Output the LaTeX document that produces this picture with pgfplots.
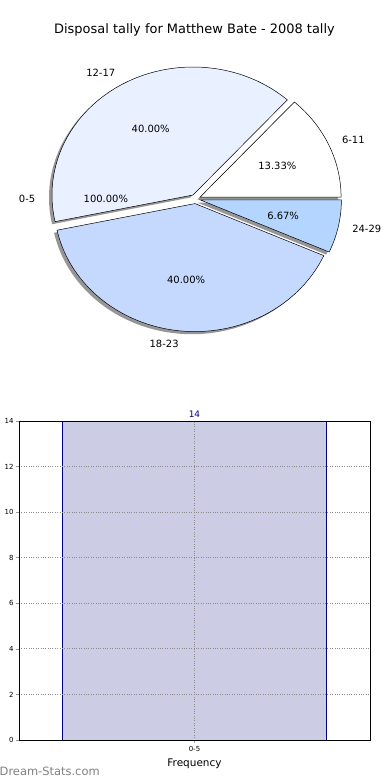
\documentclass[border=0pt]{standalone}
\usepackage{fontspec}
\setmainfont{DejaVu Sans}
\usepackage{pgfplots}
\pgfplotsset{compat=1.18}
\definecolor{s0611}{HTML}{FFFFFF}
\definecolor{s1217}{HTML}{E9F0FF}
\definecolor{s1823}{HTML}{C5D9FF}
\definecolor{s2429}{HTML}{B4D5FF}
\definecolor{barfill}{HTML}{CCCCE5}
\definecolor{navyc}{HTML}{000080}
% pie values (counts): 6-11 = 2, 12-17 = 6, 0-5 = 0, 18-23 = 6, 24-29 = 1 ; total 15
\newcommand\pietotal{15}
\newcommand\pieslice[4]{% #1 cumulative start, #2 value, #3 fill, #4 1=shadow
  \pgfmathsetmacro\sa{360*#1/\pietotal}%
  \pgfmathsetmacro\ea{360*(#1+#2)/\pietotal}%
  \pgfmathsetmacro\ma{(\sa+\ea)/2}%
  \ifnum#4=1
    \pgfmathsetmacro\px{195.5+5*cos(\ma)-3}%
    \pgfmathsetmacro\py{581+4.6*sin(\ma)-2.6}%
    \edef\tmp{\noexpand\fill[black!75,opacity=0.55] (axis cs:\px,\py) -- ++(\sa:141bp and 128bp) arc[start angle=\sa, end angle=\ea, x radius=141bp, y radius=128bp] -- cycle;}%
  \else
    \pgfmathsetmacro\px{195.5+5*cos(\ma)}%
    \pgfmathsetmacro\py{581+4.6*sin(\ma)}%
    \edef\tmp{\noexpand\filldraw[fill=#3,draw=black,line width=0.5pt,line join=miter] (axis cs:\px,\py) -- ++(\sa:141bp and 128bp) arc[start angle=\sa, end angle=\ea, x radius=141bp, y radius=128bp] -- cycle;}%
  \fi
  \tmp}
\begin{document}
\begin{tikzpicture}
\useasboundingbox (0,0) rectangle (390bp,780bp);
\begin{axis}[at={(0,0)}, anchor=origin, x=1bp, y=1bp, xmin=0, xmax=390, ymin=0, ymax=780,
  hide axis, clip=false]
  \addplot[draw=none] coordinates {(0,0) (390,780)};
  % shadows
  \pieslice{0}{2}{s0611}{1}
  \pieslice{2}{6}{s1217}{1}
  \pieslice{8}{6}{s1823}{1}
  \pieslice{14}{1}{s2429}{1}
  % slices
  \pieslice{0}{2}{s0611}{0}
  \pieslice{2}{6}{s1217}{0}
  \pieslice{8}{6}{s1823}{0}
  \pieslice{14}{1}{s2429}{0}
  \begingroup
  \fontsize{10}{12}\selectfont
  \node[anchor=west, inner sep=0pt] at (axis cs:341.8,640.1) {6-11};
  \node[anchor=east, inner sep=0pt] at (axis cs:115.4,706.9) {12-17};
  \node[anchor=east, inner sep=0pt] at (axis cs:35.4,581) {0-5};
  \node[anchor=east, inner sep=0pt] at (axis cs:178.8,436.4) {18-23};
  \node[anchor=west, inner sep=0pt] at (axis cs:352.1,550.8) {24-29};
  \node[inner sep=0pt] at (axis cs:277.4,614.1) {13.33\%};
  \node[inner sep=0pt] at (axis cs:150.7,651.5) {40.00\%};
  \node[inner sep=0pt] at (axis cs:105.9,581) {100.00\%};
  \node[inner sep=0pt] at (axis cs:186.1,500.0) {40.00\%};
  \node[inner sep=0pt] at (axis cs:283.1,564.0) {6.67\%};
  \endgroup
  \node[inner sep=0pt, font=\fontsize{13}{15}\selectfont] at (axis cs:194.5,750) {Disposal tally for Matthew Bate - 2008 tally};
  \node[anchor=west, inner sep=0pt, text=black!50, font=\fontsize{11.5}{13}\selectfont] at (axis cs:-0.5,9) {Dream-Stats.com};
\end{axis}
\begin{axis}[at={(19bp,40bp)}, anchor=south west, scale only axis,
  width=351bp, height=319bp,
  xmin=-0.665, xmax=0.665, ymin=0, ymax=14,
  ytick={0,2,...,14}, xtick={0}, xticklabels={0-5},
  /pgf/number format/assume math mode=true,
  grid=major, major grid style={dotted, black!45, line width=0.8pt},
  axis line style={black, line width=0.8pt},
  tick style={black!40, line width=0.6pt}, major tick length=3bp,
  tick align=outside, tick pos=left,
  ticklabel style={font=\fontsize{7}{8}\selectfont},
  yticklabel style={xshift=1bp},
  xlabel={Frequency}, ylabel={Disposals},
  xlabel style={font=\fontsize{10.5}{12}\selectfont},
  ylabel style={font=\fontsize{10.5}{12}\selectfont, at={(axis description cs:-0.047,0.5)}, anchor=south},
  axis on top]
  \addplot[ybar, bar width=1, fill=barfill, draw=navyc, line width=0.8pt,
    nodes near coords, nodes near coords style={font=\fontsize{9}{10}\selectfont, text=navyc}]
    coordinates {(0,14)};
\end{axis}
\end{tikzpicture}
\end{document}
